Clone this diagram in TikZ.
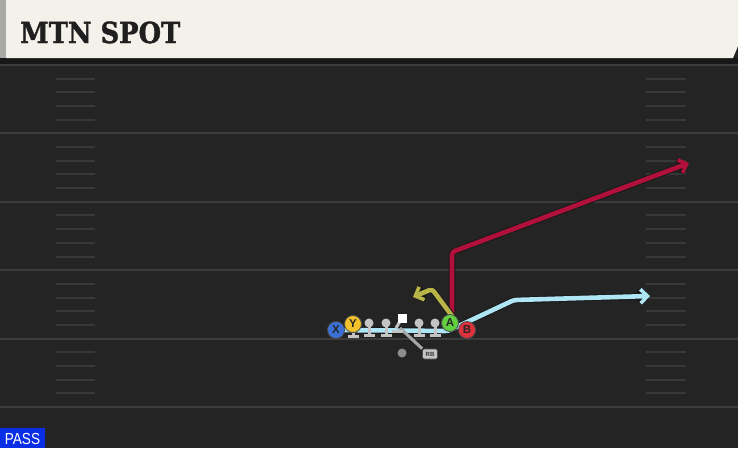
\documentclass[tikz,border=0pt]{standalone}
\usepackage{fontspec}
\setmainfont{DejaVu Serif}
\newfontfamily\sansf{Liberation Sans}
\newfontfamily\titlef{DejaVu Serif}[BoldFont={DejaVu Serif Bold}, BoldFeatures={FakeBold=1.5}]
\usetikzlibrary{arrows.meta}
\definecolor{field}{HTML}{242424}
\definecolor{band}{HTML}{171717}
\definecolor{yardc}{HTML}{3c3c3c}
\definecolor{hashc}{HTML}{383838}
\definecolor{cream}{HTML}{F4F1EA}
\definecolor{leftstrip}{HTML}{A8A8A4}
\definecolor{redroute}{HTML}{B0103A}
\definecolor{oliveroute}{HTML}{B8B448}
\definecolor{blueroute}{HTML}{AEE6F6}
\definecolor{lineman}{HTML}{C4C4C4}
\definecolor{xblue}{HTML}{3A70D8}
\definecolor{yyellow}{HTML}{F2C22A}
\definecolor{agreen}{HTML}{62D040}
\definecolor{bred}{HTML}{E0303C}
\definecolor{passblue}{HTML}{0A2EE6}
\tikzset{
  yard/.style={draw=yardc, line width=2pt},
  hashmark/.style={draw=hashc, line width=2pt},
  route/.style={line width=4.6pt, draw=#1, line join=round, rounded corners=3pt,
     -{Straight Barb[length=7pt,width=14pt,line width=3.6pt]},
     preaction={draw=black!90, line width=6.6pt, -{Straight Barb[length=7pt,width=14pt,line width=5.6pt]}}},
  player/.style={circle, draw=black!70, line width=0.8pt, fill=#1, minimum size=17pt, inner sep=0pt,
     font=\sansf\bfseries\fontsize{11.5}{11.5}\selectfont, text=black!85},
  olman/.style={circle, fill=lineman, minimum size=9pt, inner sep=0pt},
  blockstem/.style={draw=lineman, line width=3pt},
}
\begin{document}
\begin{tikzpicture}[x=1pt,y=-1pt]
\useasboundingbox (0,0) rectangle (738,448);
\fill[field] (0,0) rectangle (738,448);
\fill[band] (0,58) rectangle (738,64);
% yard lines
\foreach \y in {65,133.4,201.8,270.2,338.6,407} \draw[yard] (0,\y) -- (738,\y);
% hash marks
\foreach \b in {65,133.4,201.8,270.2,338.6} {
  \foreach \k in {1,...,4} {
    \draw[hashmark] (56,\b+13.68*\k) -- (95,\b+13.68*\k);
    \draw[hashmark] (646,\b+13.68*\k) -- (686,\b+13.68*\k);
  }
}
% header
\fill[leftstrip] (0,0) rectangle (7,58);
\fill[cream] (6,0) -- (738,0) -- (738,46) -- (733,58) -- (6,58) -- cycle;
\node[anchor=base west, inner sep=0pt, font=\titlef\bfseries\fontsize{29}{29}\selectfont, text=black!88] (title) at (20,43) {\scalebox{0.89}[1]{MTN SPOT}};
% player positions
\coordinate (pX) at (336,330);
\coordinate (pY) at (353,324);
\coordinate (pA) at (450,323);
\coordinate (pB) at (467,330);
\coordinate (pC) at (402,318);
% routes
\coordinate (r1) at (452,252);
\coordinate (r2) at (689,163);
\draw[route=redroute] (pA) ++(2,-6) coordinate (r0) -- (r1) -- (r2);
\coordinate (y1) at (432,289);
\coordinate (y2) at (413,297);
\draw[route=oliveroute] (455,320) coordinate (y0) -- (y1) -- (y2);
\coordinate (b1) at (448,331);
\coordinate (b2) at (514,300);
\coordinate (b3) at (650,296);
\draw[route=blueroute] (pX) -- (b1) -- (b2) -- (b3);
% RB block line
\node[rounded corners=2pt, fill=lineman, draw=black!70, line width=0.6pt, minimum width=15pt, minimum height=10pt, inner sep=0pt,
  font=\sansf\bfseries\fontsize{6}{6}\selectfont, text=black!80] (RB) at (430,354) {RB};
\draw[draw=lineman!85!black, line width=3pt] (pC) ++(-2,10) coordinate (c0) -- (RB.north west);
% QB dot
\node[circle, fill=black!45, minimum size=9pt, inner sep=0pt] (QB) at (402,353) {};
% linemen with block T's
\foreach \x/\n in {369/L1,386/L2,419/R1,435/R2} {
  \draw[blockstem] (\x,323) -- (\x,334);
  \draw[blockstem, line cap=butt] (\x-5.5,335) -- (\x+5.5,335);
  \node[olman] (\n) at (\x,323) {};
}
% center
\draw[blockstem] (402,318) -- (396,328);
\draw[blockstem] (392,331) -- (403,331);
\node[fill=white, minimum size=9pt, inner sep=0pt] (C) at (pC) {};
% Y block
\draw[blockstem] (353,324) -- (353,335);
\draw[blockstem] (347.5,336) -- (358.5,336);
% skill players
\node[player=xblue] (X) at (pX) {X};
\node[player=yyellow] (Y) at (pY) {Y};
\node[player=agreen] (A) at (pA) {A};
\node[player=bred] (B) at (pB) {B};
% PASS tag
\fill[passblue] (0,428) rectangle (45,448);
\node[font=\sansf\fontsize{16}{16}\selectfont, text=white, inner sep=0pt] (pass) at (22.5,438.5) {\scalebox{0.85}[1]{PASS}};
\end{tikzpicture}
\end{document}
